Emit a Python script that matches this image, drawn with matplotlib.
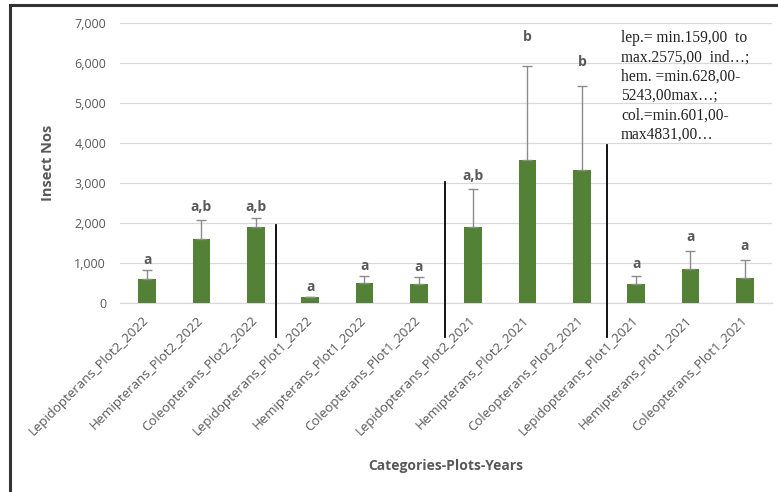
import matplotlib
matplotlib.use("Agg")
import matplotlib.pyplot as plt
from matplotlib.patches import Rectangle

categories = [
    "Lepidopterans_Plot2_2022", "Hemipterans_Plot2_2022", "Coleopterans_Plot2_2022",
    "Lepidopterans_Plot1_2022", "Hemipterans_Plot1_2022", "Coleopterans_Plot1_2022",
    "Lepidopterans_Plot2_2021", "Hemipterans_Plot2_2021", "Coleopterans_Plot2_2021",
    "Lepidopterans_Plot1_2021", "Hemipterans_Plot1_2021", "Coleopterans_Plot1_2021",
]
means = [600, 1600, 1900, 140, 500, 475, 1900, 3580, 3320, 475, 850, 620]
errors = [225, 475, 230, 20, 180, 175, 950, 2350, 2110, 195, 460, 460]
letters = ["a", "a,b", "a,b", "a", "a", "a", "a,b", "b", "b", "a", "a", "a"]
yticks = [0, 1000, 2000, 3000, 4000, 5000, 6000, 7000]
ytick_labels = ["0", "1,000", "2,000", "3,000", "4,000", "5,000", "6,000", "7,000"]

note_lines = [
    "lep.= min.159,00  to",
    "max.2575,00  ind\u2026;",
    "hem. =min.628,00-",
    "5243,00max\u2026;",
    "col.=min.601,00-",
    "max4831,00\u2026",
]

# letter offsets above each error bar (points)
letter_offsets = [2, 4, 3, 2, 2, 2, 4, 16, 12, 4, 5, 5]
# separators: (x position, top value)
separators = [(2.37, 1950), (5.48, 3030), (8.46, 3950)]

green = "#538135"
gray = "#595959"
font = "Open Sans"

fig = plt.figure(figsize=(7.78, 4.92), dpi=100)
ax = fig.add_axes([120 / 778, 1 - 303 / 492, 652 / 778, 280 / 492])

x = list(range(len(categories)))
ax.bar(x, means, width=0.32, color=green, zorder=3)
ax.errorbar(x, means, yerr=[[0] * len(errors), errors], fmt="none",
            ecolor="#8c8c8c", elinewidth=1.0, capsize=3.5, capthick=1.0, zorder=4)

for xi, m, e, lab, off in zip(x, means, errors, letters, letter_offsets):
    ax.annotate(lab, (xi, m + e), xytext=(0, off), textcoords="offset points",
                ha="center", va="bottom", fontsize=10, fontweight="bold",
                color=gray, family=font)

ax.set_xlim(-0.5, 11.5)
ax.set_ylim(0, 7000)
ax.set_yticks(yticks)
ax.set_yticklabels(ytick_labels, fontsize=9, color=gray, family=font)
ax.set_xticks(x)
ax.set_xticklabels(categories, rotation=45, ha="right", va="center",
                   rotation_mode="anchor", fontsize=9.5, color=gray, family=font)
ax.tick_params(axis="y", length=0, pad=10)
ax.tick_params(axis="x", length=0, pad=11)
ax.grid(axis="y", color="#d9d9d9", linewidth=0.9, zorder=0)
for s in ["top", "right", "left"]:
    ax.spines[s].set_visible(False)
ax.spines["bottom"].set_color("#d9d9d9")
ax.spines["bottom"].set_linewidth(0.9)

ax.set_ylabel("Insect Nos", fontsize=10.5, fontweight="bold", color=gray,
              family=font, labelpad=14)
ax.set_xlabel("Categories-Plots-Years", fontsize=10, fontweight="bold",
              color=gray, family=font, labelpad=15)

for sx, top in separators:
    ax.plot([sx, sx], [top, -850], color="black", linewidth=1.3,
            clip_on=False, zorder=5)

fig.text(621 / 778, 1 - 30 / 492, "\n".join(note_lines), ha="left", va="top",
         fontsize=11.2, family="Liberation Serif", color="#222222", linespacing=1.28)

fig.patches.append(Rectangle((10 / 778, -0.02), 1.0, 1.02 - 5 / 492,
                             transform=fig.transFigure, fill=False,
                             edgecolor="#333333", linewidth=2.2))

fig.savefig("out.png", dpi=100)
